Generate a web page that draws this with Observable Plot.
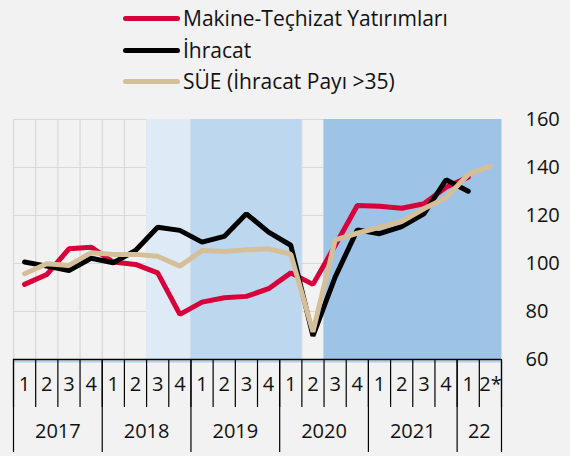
<!DOCTYPE html>
<html><head><meta charset="utf-8">
<script src="https://cdn.jsdelivr.net/npm/d3@7"></script>
<script src="https://cdn.jsdelivr.net/npm/@observablehq/plot@0.6"></script>
<style>
body{margin:0;background:#f2f2f2;font-family:"Open Sans",sans-serif;}
#wrap{position:relative;width:570px;height:456px;overflow:hidden;background:#f2f2f2}
#legend{position:absolute;left:0;top:0;width:570px;height:100px}
.item{position:absolute;left:123px;height:26px;display:flex;align-items:center;font-size:21px;color:#111;white-space:nowrap}
.sw{width:57px;height:5px;border-radius:3px;margin-right:3px}
#chart{position:absolute;left:0;top:100px}
</style></head>
<body>
<div id="wrap">
  <div id="legend"></div>
  <div id="chart"></div>
</div>
<script>
const quarterLabels = ["1","2","3","4","1","2","3","4","1","2","3","4","1","2","3","4","1","2","3","4","1","2*"];
const yearLabels = ["2017","2018","2019","2020","2021","22"];
const yearQuarters = [4,4,4,4,4,2];
const yTicks = [60,80,100,120,140,160];

const makine  = [91.3, 95.4, 106.1, 106.8, 100.6, 99.6, 96.1, 78.8, 83.9, 85.7, 86.3, 89.5, 96.1, 91.3, 107.5, 124.2, 123.9, 123.0, 124.9, 131.8, 136.0];
const ihracat = [100.6, 98.9, 97.1, 102.2, 100.3, 105.4, 115.1, 113.8, 108.9, 111.3, 120.7, 113.1, 107.6, 69.8, 94.3, 114.0, 112.4, 115.4, 120.7, 134.9, 130.1];
const sue     = [95.7, 99.9, 99.2, 104.5, 103.8, 103.8, 103.0, 98.9, 105.4, 105.0, 105.7, 106.1, 103.9, 71.5, 109.8, 112.6, 115.1, 117.5, 122.8, 127.4, 137.1, 140.6];

const seriesNames = ["Makine-Teçhizat Yatırımları","İhracat","SÜE (İhracat Payı >35)"];
const seriesColors = ["#d7003a","#000000","#d5bf99"];

// shaded periods: [first quarter index, end quarter index (exclusive)]
const shadeStart = [6, 8, 14];
const shadeEnd = [8, 13, 22];
const shadeColors = ["#deeaf6","#bdd7ee","#9dc3e6"];

// legend
const leg = document.getElementById("legend");
const legY = [18, 50, 81];
seriesNames.forEach((n,i)=>{
  const d = document.createElement("div");
  d.className="item"; d.style.top=(legY[i]-13)+"px";
  d.innerHTML = `<span class="sw" style="background:${seriesColors[i]}"></span><span>${n}</span>`;
  leg.appendChild(d);
});

const toRows = (arr, name) => arr.map((v,i)=>({q:i+0.5, v, name}));
const rows = [...toRows(makine, seriesNames[0]), ...toRows(ihracat, seriesNames[1]), ...toRows(sue, seriesNames[2])];
const shades = shadeStart.map((s,i)=>({x1:s, x2:shadeEnd[i], fill:shadeColors[i]}));

const bounds = d3.range(0, quarterLabels.length+1);
const yearBounds = [0];
yearQuarters.forEach(n=>yearBounds.push(yearBounds[yearBounds.length-1]+n));
const yearCenters = yearLabels.map((l,i)=>({l, c:(yearBounds[i]+yearBounds[i+1])/2}));

const chart = Plot.plot({
  width:570, height:356,
  marginTop:19, marginBottom:97, marginLeft:13, marginRight:69,
  style:{background:"transparent", fontFamily:"Open Sans", overflow:"visible", color:"#111"},
  x:{type:"linear", domain:[0, quarterLabels.length], axis:null},
  y:{domain:[60,160], axis:null},
  marks:[
    Plot.ruleY(yTicks, {stroke:"#d9d9d9", strokeWidth:1.2}),
    Plot.ruleX(bounds, {stroke:"#d9d9d9", strokeWidth:1.2}),
    Plot.rect(shades, {x1:"x1", x2:"x2", y1:60, y2:160, fill:"fill"}),
    ...seriesNames.map((n,i)=>Plot.line(rows.filter(r=>r.name===n), {x:"q", y:"v", stroke:seriesColors[i], strokeWidth:5, strokeLinejoin:"miter", strokeLinecap:"round"})),
    Plot.ruleY([60], {stroke:"#b4d0ec", strokeWidth:2, dy:2}),
    Plot.ruleY([60], {stroke:"#000", strokeWidth:1.5}),
    Plot.ruleX(bounds, {stroke:"#000", strokeWidth:1.2, insetTop:240, insetBottom:-48}),
    Plot.ruleX(yearBounds, {stroke:"#000", strokeWidth:1.2, insetTop:240, insetBottom:-93}),
    Plot.text(quarterLabels, {x:(d,i)=>i+0.5, text:d=>d, frameAnchor:"bottom", dy:31, fontSize:20, fill:"#111"}),
    Plot.text(yearCenters, {x:"c", text:"l", frameAnchor:"bottom", dy:78, fontSize:20, fill:"#111"}),
    Plot.text(yTicks, {y:d=>d, text:d=>String(d), frameAnchor:"right", textAnchor:"start", dx:24, fontSize:20, fill:"#111"})
  ]
});
document.getElementById("chart").appendChild(chart);
</script>
</body></html>
